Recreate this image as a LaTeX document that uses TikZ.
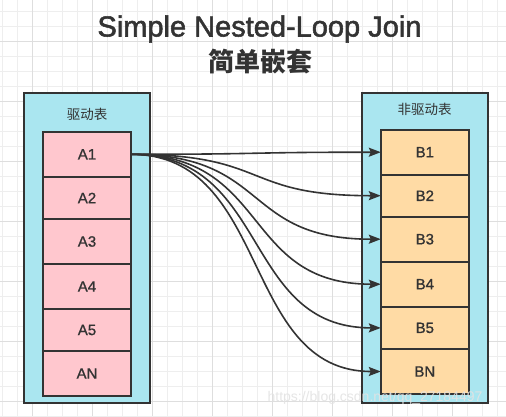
\documentclass[tikz,border=0pt]{standalone}
\usepackage{fontspec}
\setmainfont{Liberation Sans}
\font\titlefont="Liberation Sans:embolden=1.8" at 29pt
\font\cellfont="Liberation Sans:embolden=1.0" at 15pt
\font\markfont="Liberation Sans" at 14pt
\newfontfamily\cjk{Noto Sans CJK SC}
\newfontfamily\cjktitle{Noto Sans CJK SC}
\usetikzlibrary{arrows.meta}

\definecolor{gridminor}{RGB}{238,238,238}
\definecolor{gridmajor}{RGB}{222,222,222}
\definecolor{boxcyan}{RGB}{170,230,240}
\definecolor{cellpink}{RGB}{255,199,206}
\definecolor{cellorange}{RGB}{255,219,165}
\definecolor{inkdark}{RGB}{51,51,51}

\tikzset{
  tablebox/.style={draw=inkdark, line width=2pt, fill=boxcyan, inner sep=0pt, outer sep=0pt, minimum width=126pt, minimum height=310pt},
  acell/.style={draw=inkdark, line width=1.8pt, fill=cellpink, inner sep=0pt, outer sep=0pt, minimum width=88pt, font=\cellfont, text=inkdark},
  bcell/.style={acell, fill=cellorange},
  tablabel/.style={font=\cjk\fontsize{13.5}{14}\selectfont, text=inkdark},
  link/.style={draw=inkdark, line width=1.6pt, -{Stealth[length=12pt,width=9pt,inset=2pt]}},
}

\begin{document}
\begin{tikzpicture}[x=1pt,y=-1pt]
	\useasboundingbox (0,0) rectangle (506,416);
	\fill[white] (0,0) rectangle (506,416);
	% background grid
	\foreach \i in {0,...,33} \draw[gridminor, line width=1pt] ({2.7+15*\i},0) -- ({2.7+15*\i},416);
	\foreach \i in {0,...,27} \draw[gridminor, line width=1pt] (0,{11+15*\i}) -- (506,{11+15*\i});
	\foreach \i in {0,...,7} \draw[gridmajor, line width=1pt] ({32.7+60*\i},0) -- ({32.7+60*\i},416);
	\foreach \i in {0,...,6} \draw[gridmajor, line width=1pt] (0,{41+60*\i}) -- (506,{41+60*\i});

	\node[font=\titlefont, text=inkdark] (title) at (259.5,29) {Simple Nested-Loop Join};
	\node[font=\cjktitle\bfseries\fontsize{26}{28}\selectfont, text=inkdark] (subtitle) at (260,62) {简单嵌套};

	% driving table
	\node[tablebox] (drv) at (87.2,247.7) {};
	\node[tablabel] (drvlabel) at (87,114.5) {驱动表};
	\node[acell, minimum height=45.3pt] (a1) at (87,154.3) {A1};
	\node[acell, minimum height=42pt] (a2) at (87,198) {A2};
	\node[acell, minimum height=45pt] (a3) at (87,241.5) {A3};
	\node[acell, minimum height=45pt] (a4) at (87,286.5) {A4};
	\node[acell, minimum height=42pt] (a5) at (87,330) {A5};
	\node[acell, minimum height=45pt] (an) at (87,373.5) {AN};

	% driven table
	\node[tablebox] (ndrv) at (424.7,247.8) {};
	\node[tablabel] (ndrvlabel) at (424.7,109) {非驱动表};
	\node[bcell, minimum height=45pt] (b1) at (424.8,152.2) {B1};
	\node[bcell, minimum height=42pt] (b2) at (424.8,195.7) {B2};
	\node[bcell, minimum height=45pt] (b3) at (424.8,239.2) {B3};
	\node[bcell, minimum height=45pt] (b4) at (424.8,284.2) {B4};
	\node[bcell, minimum height=42.3pt] (b5) at (424.8,327.9) {B5};
	\node[bcell, minimum height=45pt] (bn) at (424.8,371.5) {BN};

	\draw[link] (a1.east) .. controls +(140,0) and +(-140,0) .. (b1.west);
	\draw[link] (a1.east) .. controls +(140,0) and +(-140,0) .. (b2.west);
	\draw[link] (a1.east) .. controls +(140,0) and +(-140,0) .. (b3.west);
	\draw[link] (a1.east) .. controls +(140,0) and +(-140,0) .. (b4.west);
	\draw[link] (a1.east) .. controls +(140,0) and +(-140,0) .. (b5.west);
	\draw[link] (a1.east) .. controls +(140,0) and +(-140,0) .. (bn.west);

	\node[font=\markfont, text=gray!22, opacity=0.9] (mark) at (375,398) {https://blog.csdn.net/qq\_27184497};
\end{tikzpicture}
\end{document}
